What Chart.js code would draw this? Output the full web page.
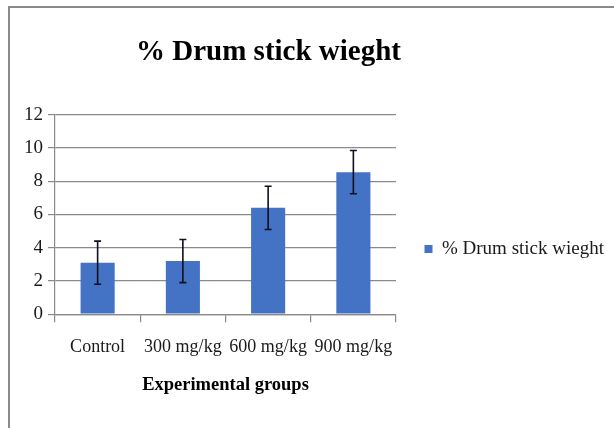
<!DOCTYPE html>
<html>
<head>
<meta charset="utf-8">
<script src="https://cdn.jsdelivr.net/npm/chart.js@4"></script>
<style>
  html, body { margin: 0; padding: 0; background: #ffffff; }
  #wrap { position: relative; width: 614px; height: 428px; overflow: hidden; background: #ffffff; }
  #frame { position: absolute; left: 8px; top: 6px; width: 700px; height: 500px;
           border-left: 2px solid #8a8a8a; border-top: 2px solid #8a8a8a; }
  canvas { position: absolute; left: 0; top: 0; }
</style>
</head>
<body>
<div id="wrap">
  <div id="frame"></div>
  <canvas id="c" width="614" height="428"></canvas>
</div>
<script>
const chartTitle = '% Drum stick wieght';
const seriesName = '% Drum stick wieght';
const xAxisTitle = 'Experimental groups';
const categories = ['Control', '300 mg/kg', '600 mg/kg', '900 mg/kg'];
const meanValues = [3.1, 3.2, 6.4, 8.55];
const errorValues = [1.3, 1.3, 1.3, 1.3];
const yTickValues = [0, 2, 4, 6, 8, 10, 12];

const errorBarPlugin = {
  id: 'errorBars',
  afterDatasetsDraw(chart) {
    const ctx = chart.ctx;
    const yScale = chart.scales.y;
    const meta = chart.getDatasetMeta(0);
    ctx.save();
    ctx.strokeStyle = '#10101e';
    ctx.lineWidth = 1.6;
    meta.data.forEach((bar, i) => {
      const v = meanValues[i], e = errorValues[i];
      const yTop = yScale.getPixelForValue(v + e);
      const yBot = yScale.getPixelForValue(v - e);
      const x = bar.x;
      const cap = 3.5;
      ctx.beginPath();
      ctx.moveTo(x, yTop); ctx.lineTo(x, yBot);
      ctx.moveTo(x - cap, yTop); ctx.lineTo(x + cap, yTop);
      ctx.moveTo(x - cap, yBot); ctx.lineTo(x + cap, yBot);
      ctx.stroke();
    });
    ctx.restore();
  }
};

const placementPlugin = {
  id: 'placement',
  afterLayout(chart) {
    const t = chart.titleBlock;
    if (t) { t.left = 0; t.right = 537; t.width = 537; }
    const lg = chart.legend;
    if (lg) {
      const dy = 51;
      lg.top += dy; lg.bottom += dy;
    }
  }
};

new Chart(document.getElementById('c'), {
  type: 'bar',
  data: {
    labels: categories,
    datasets: [{
      label: seriesName,
      data: meanValues,
      backgroundColor: '#4472C4',
      borderWidth: 0,
      categoryPercentage: 1.0,
      barPercentage: 0.4
    }]
  },
  options: {
    responsive: false,
    animation: false,
    devicePixelRatio: 1,
    layout: { padding: { left: 0, right: 0, top: 0, bottom: 32 } },
    plugins: {
      title: {
        display: true,
        text: chartTitle,
        color: '#000000',
        font: { family: '"Liberation Serif", "Times New Roman", serif', size: 29, weight: 'bold', lineHeight: 1.2 },
        padding: { top: 35, bottom: 45 }
      },
      legend: {
        display: true,
        position: 'right',
        maxWidth: 220,
        labels: {
          color: '#1a1a1a',
          boxWidth: 8,
          boxHeight: 8,
          padding: 28.5,
          font: { family: '"Liberation Serif", "Times New Roman", serif', size: 19 }
        }
      },
      tooltip: { enabled: false }
    },
    scales: {
      x: {
        grid: { display: true, drawOnChartArea: false, drawTicks: true, tickLength: 8, color: '#8a8a8a', lineWidth: 1.2, offset: true },
        border: { display: true, color: '#8a8a8a', width: 1.2 },
        ticks: {
          color: '#1a1a1a',
          autoSkip: false,
          maxRotation: 0,
          minRotation: 0,
          padding: 14,
          font: { family: '"Liberation Serif", "Times New Roman", serif', size: 18 }
        },
        title: {
          display: true,
          text: xAxisTitle,
          color: '#000000',
          font: { family: '"Liberation Serif", "Times New Roman", serif', size: 18.5, weight: 'bold', lineHeight: 1.2 },
          padding: { top: 2, bottom: 0 }
        }
      },
      y: {
        min: 0,
        max: 12,
        afterFit(scale) { scale.width = 55; },
        afterBuildTicks(scale) { scale.ticks = yTickValues.map(v => ({ value: v })); },
        grid: { color: '#8a8a8a', lineWidth: 1.2, tickLength: 7, drawTicks: true },
        border: { display: true, color: '#8a8a8a', width: 1.2 },
        ticks: {
          color: '#1a1a1a',
          padding: 5,
          font: { family: '"Liberation Serif", "Times New Roman", serif', size: 19 }
        }
      }
    }
  },
  plugins: [errorBarPlugin, placementPlugin]
});
</script>
</body>
</html>
